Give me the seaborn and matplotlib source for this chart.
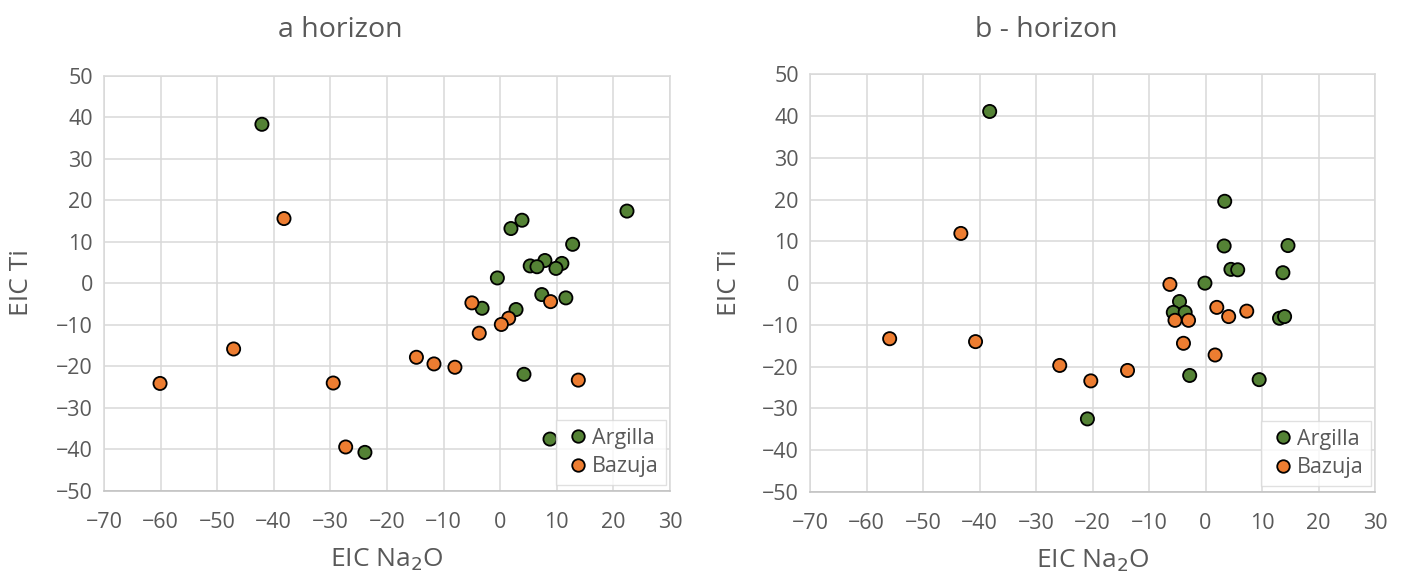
import numpy as np
import pandas as pd
import matplotlib
matplotlib.use("Agg")
import matplotlib.pyplot as plt
import seaborn as sns

# a horizon
a_argilla_x = [-42.1, 22.4, 3.85, 1.9, 12.8, 7.9, 5.3, 6.5, 10.9, 9.85, -0.5, 7.35, 11.6,
               -3.2, 2.8, 4.2, 8.8, -23.9]
a_argilla_y = [38.3, 17.4, 15.2, 13.2, 9.4, 5.5, 4.2, 4.0, 4.8, 3.6, 1.3, -2.7, -3.5,
               -6.0, -6.3, -21.9, -37.5, -40.7]
a_bazuja_x = [-38.2, -5.0, 8.9, 1.5, 0.2, -3.7, -47.1, -14.8, -11.7, -8.0, -60.1, -29.5, 13.8, -27.3]
a_bazuja_y = [15.6, -4.7, -4.4, -8.4, -9.9, -12.0, -15.8, -17.8, -19.4, -20.2, -24.1, -24.0, -23.3, -39.4]

# b - horizon
b_argilla_x = [-38.2, 3.4, 3.3, 14.6, 4.5, 5.7, 13.7, -0.1, -4.6, -5.7, -3.6, 13.1, 14.0,
               -2.8, 9.5, -20.9]
b_argilla_y = [41.1, 19.6, 8.9, 9.0, 3.3, 3.2, 2.5, 0.0, -4.4, -7.0, -7.0, -8.4, -8.0,
               -22.1, -23.1, -32.5]
b_bazuja_x = [-43.3, -6.3, 2.0, 7.3, 4.1, -5.4, -3.0, -55.9, -40.7, -3.9, 1.7, -25.8, -13.8, -20.3]
b_bazuja_y = [11.9, -0.3, -5.8, -6.7, -8.0, -8.9, -8.9, -13.3, -14.0, -14.4, -17.2, -19.7, -20.9, -23.4]

titles = ["a horizon", "b - horizon"]
groups = ["Argilla", "Bazuja"]
colors = {"Argilla": "#548235", "Bazuja": "#ED7D31"}
x_ticks = list(range(-70, 31, 10))
y_ticks = list(range(-50, 51, 10))

sns.set_style("white")
plt.rcParams["font.family"] = ["Open Sans", "DejaVu Sans"]
grey = "#595959"


def make_df(ax_, ay_, bx_, by_):
    d1 = pd.DataFrame({"x": ax_, "y": ay_, "grp": "Argilla"})
    d2 = pd.DataFrame({"x": bx_, "y": by_, "grp": "Bazuja"})
    return pd.concat([d1, d2], ignore_index=True)


dfs = [make_df(a_argilla_x, a_argilla_y, a_bazuja_x, a_bazuja_y),
       make_df(b_argilla_x, b_argilla_y, b_bazuja_x, b_bazuja_y)]

fig = plt.figure(figsize=(14.05, 5.81), dpi=100)
ax_rects = [[104 / 1405, 1 - 491 / 581, 566 / 1405, 415.3 / 581],
            [810 / 1405, 1 - 492 / 581, 565 / 1405, 417.7 / 581]]
title_x = [340 / 1405, 1046 / 1405]
ylabel_x = [22 / 1405, 730 / 1405]

for i in range(2):
    ax = fig.add_axes(ax_rects[i])
    sns.scatterplot(data=dfs[i], x="x", y="y", hue="grp", hue_order=groups,
                    palette=colors, s=90, edgecolor="black", linewidth=1.3,
                    ax=ax, zorder=3)
    ax.set_xlim(-70, 30)
    ax.set_ylim(-50, 50)
    ax.set_xticks(x_ticks)
    ax.set_yticks(y_ticks)
    ax.grid(True, color="#D9D9D9", linewidth=1.1, zorder=0)
    ax.set_axisbelow(True)
    for side in ["top", "right", "left"]:
        ax.spines[side].set_color("#D9D9D9")
        ax.spines[side].set_linewidth(1.1)
    ax.spines["bottom"].set_color("#BFBFBF")
    ax.spines["bottom"].set_linewidth(1.1)
    ax.tick_params(axis="both", length=0, labelsize=15.5, labelcolor=grey)
    ax.tick_params(axis="y", pad=8)
    ax.tick_params(axis="x", pad=15)
    ax.set_xlabel("EIC Na$_2$O", fontsize=19, color=grey, labelpad=10)
    ax.set_ylabel("")
    fig.text(ylabel_x[i], 1 - 283 / 581, "EIC Ti", rotation=90, fontsize=19,
             color=grey, ha="center", va="center")
    fig.text(title_x[i], 1 - 30 / 581, titles[i], fontsize=20.5, color=grey,
             ha="center", va="center")
    leg = ax.legend(loc="lower right", bbox_to_anchor=(0.993, 0.015), fontsize=15.5,
                    frameon=True, fancybox=False, edgecolor="#D9D9D9",
                    handletextpad=0.0, borderpad=0.35, labelspacing=0.35,
                    handlelength=1.3, borderaxespad=0.0, markerscale=0.95)
    leg.get_frame().set_linewidth(1.0)
    for t in leg.get_texts():
        t.set_color(grey)

fig.savefig("out.png", dpi=100)
